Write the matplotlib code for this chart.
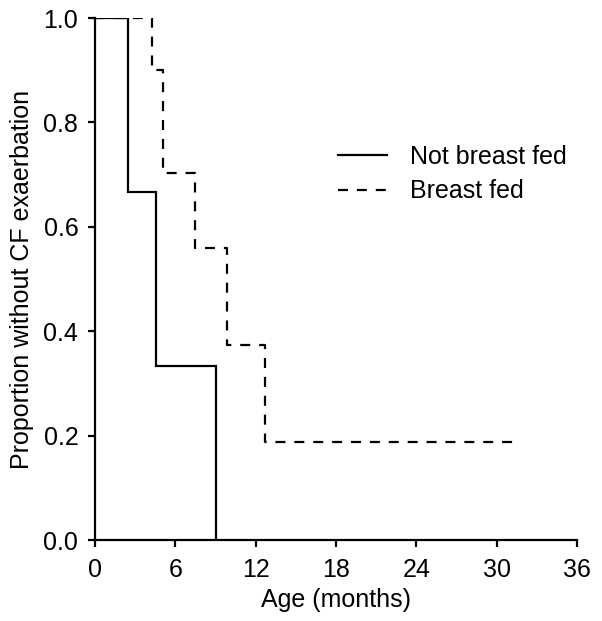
import matplotlib
matplotlib.use("Agg")
import matplotlib.pyplot as plt

plt.rcParams['font.family'] = ['Liberation Sans', 'DejaVu Sans']

# Data (Kaplan-Meier step curves)
not_bf_time = [0, 2.5, 4.55, 9.07]
not_bf_surv = [1.0, 0.667, 0.333, 0.0]

bf_time = [0, 4.28, 5.07, 7.44, 9.85, 12.67, 31.6]
bf_surv = [1.0, 0.90, 0.703, 0.559, 0.374, 0.187, 0.187]

x_ticks = [0, 6, 12, 18, 24, 30, 36]
y_ticks = [0.0, 0.2, 0.4, 0.6, 0.8, 1.0]

FS = 18

fig = plt.figure(figsize=(6.02, 6.21), dpi=100)
ax = fig.add_axes([95/602, 1 - 540/621, 482/602, 522/621])

ax.step(not_bf_time, not_bf_surv, where='post', color='black', lw=1.6,
        label='Not breast fed', solid_joinstyle='miter')
ax.step(bf_time, bf_surv, where='post', color='black', lw=1.6,
        linestyle=(0, (4.5, 4.0)), label='Breast fed')

ax.set_xlim(0, 36)
ax.set_ylim(0, 1.0)
ax.set_xticks(x_ticks)
ax.set_yticks(y_ticks)
ax.set_yticklabels([f"{v:.1f}" for v in y_ticks])
for s in ['top', 'right']:
    ax.spines[s].set_visible(False)
for s in ['left', 'bottom']:
    ax.spines[s].set_linewidth(1.6)
ax.tick_params(axis='both', direction='out', length=5, width=1.6,
               labelsize=FS)
ax.tick_params(axis='x', pad=8)
ax.tick_params(axis='y', pad=7)

ax.set_xlabel('Age (months)', fontsize=FS, labelpad=4)
ax.set_ylabel('Proportion without CF exaerbation', fontsize=FS, labelpad=7)

leg = ax.legend(loc='upper left', bbox_to_anchor=(0.504, 0.757), frameon=False,
                fontsize=FS, handlelength=1.95, handletextpad=0.95,
                borderpad=0, borderaxespad=0, labelspacing=0.42)

fig.savefig('out.png', dpi=100)
